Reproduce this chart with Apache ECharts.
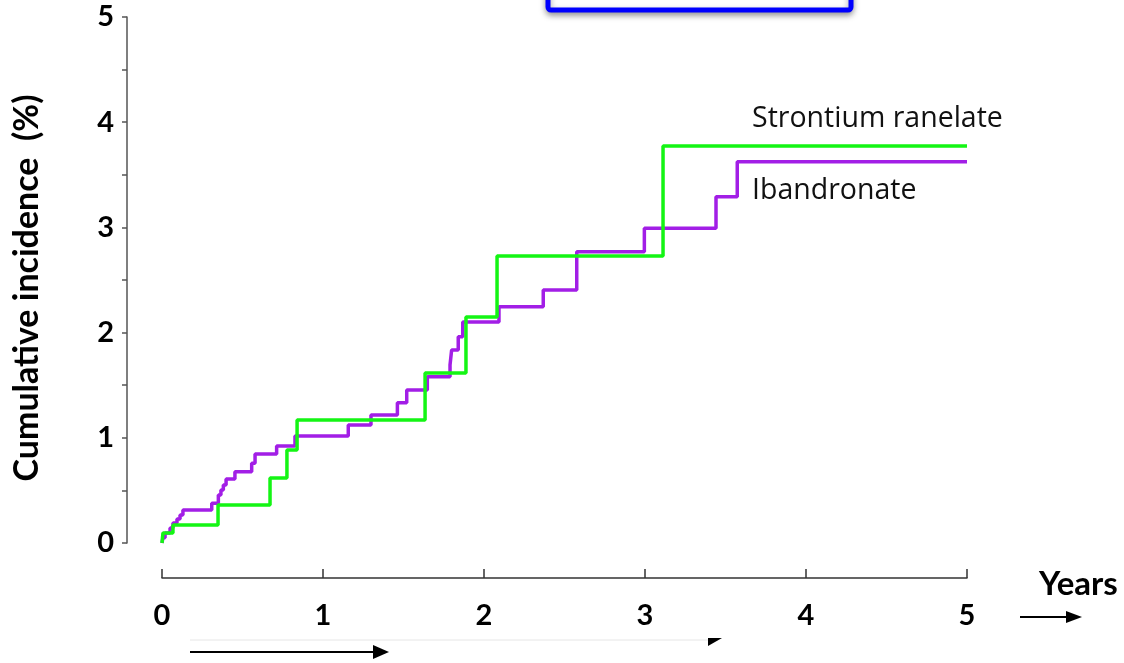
<!DOCTYPE html>
<html>
<head>
<meta charset="utf-8">
<script src="https://cdn.jsdelivr.net/npm/echarts@6/dist/echarts.min.js"></script>
<style>html,body{margin:0;padding:0;background:#fff}#c{width:1124px;height:663px}</style>
</head>
<body>
<div id="c"></div>
<script>
// Step times (years) and cumulative incidence (%) after each step
const strontiumTimes  = [0, 0.006, 0.068, 0.348, 0.671, 0.776, 0.839, 1.634, 1.888, 2.081, 3.112, 5];
const strontiumValues = [0, 0.095, 0.171, 0.361, 0.618, 0.884, 1.169, 1.616, 2.148, 2.728, 3.774, 3.774];

const ibandronateTimes  = [0, 0.006, 0.019, 0.050, 0.068, 0.093, 0.112, 0.130, 0.309, 0.350, 0.366, 0.381, 0.398, 0.453, 0.557, 0.578, 0.712, 0.826, 1.157, 1.298, 1.462, 1.520, 1.648, 1.789, 1.799, 1.840, 1.868, 2.093, 2.368, 2.576, 2.996, 3.441, 3.573, 5];
const ibandronateValues = [0, 0.050, 0.095, 0.143, 0.190, 0.228, 0.266, 0.314, 0.377, 0.456, 0.504, 0.551, 0.608, 0.678, 0.758, 0.846, 0.922, 1.017, 1.122, 1.217, 1.334, 1.454, 1.581, 1.692, 1.835, 1.961, 2.101, 2.246, 2.405, 2.769, 2.991, 3.292, 3.625, 3.625];

const xTicks = [0, 1, 2, 3, 4, 5];
const seriesNames = ['Strontium ranelate', 'Ibandronate'];
const yTitle = 'Cumulative incidence  (%)';

const pairs = (t, v) => t.map((x, i) => [x, v[i]]);
const FONT = 'Lato, "Open Sans", sans-serif';
const FONT2 = '"Open Sans", Lato, sans-serif';

const chart = echarts.init(document.getElementById('c'), null, {renderer: 'canvas'});
chart.setOption({
  animation: false,
  backgroundColor: '#fff',
  grid: {left: 162, right: 157, top: 17, bottom: 120, containLabel: false},
  xAxis: {
    type: 'value', min: 0, max: 5, interval: 1, offset: 35,
    axisLine: {show: true, onZero: false, lineStyle: {color: '#333', width: 1.5}},
    axisTick: {show: true, inside: true, length: 9, lineStyle: {color: '#333', width: 1.5}},
    axisLabel: {margin: 23, color: '#000', fontSize: 29, fontWeight: 'bold', fontFamily: FONT,
      formatter: v => xTicks.includes(v) ? String(v) : ''},
    splitLine: {show: false}
  },
  yAxis: {
    type: 'value', min: 0, max: 5, interval: 0.5, offset: 35,
    axisLine: {show: true, onZero: false, lineStyle: {color: '#555', width: 1.5}},
    axisTick: {show: true, length: 5, lineStyle: {color: '#555', width: 1.5}},
    axisLabel: {margin: 13, color: '#000', fontSize: 29, fontWeight: 'bold', fontFamily: FONT,
      formatter: v => Number.isInteger(v) ? String(v) : ''},
    splitLine: {show: false}
  },
  series: [
    {name: seriesNames[0], type: 'line', step: 'end', symbol: 'none',
     lineStyle: {color: '#14f514', width: 3.5}, data: pairs(strontiumTimes, strontiumValues), z: 3},
    {name: seriesNames[1], type: 'line', step: 'end', symbol: 'none',
     lineStyle: {color: '#a21ee6', width: 3.5}, data: pairs(ibandronateTimes, ibandronateValues), z: 2}
  ],
  graphic: [
    {type: 'text', x: 27, y: 288, rotation: Math.PI / 2,
     style: {text: yTitle, fill: '#000', font: 'bold 34px ' + FONT, align: 'center', verticalAlign: 'middle'}},
    {type: 'text', left: 752, top: 104, style: {text: seriesNames[0], fill: '#111', font: '28.5px ' + FONT2}},
    {type: 'text', left: 752, top: 176, style: {text: seriesNames[1], fill: '#111', font: '28.5px ' + FONT2}},
    {type: 'text', left: 1039, top: 568, style: {text: 'Years', fill: '#000', font: 'bold 33px ' + FONT}},
    // arrow right of axis
    {type: 'line', shape: {x1: 1020, y1: 617, x2: 1068, y2: 617}, style: {stroke: '#000', lineWidth: 2}},
    {type: 'polygon', shape: {points: [[1066, 611], [1082, 617], [1066, 623]]}, style: {fill: '#000'}},
    // bottom arrow
    {type: 'line', shape: {x1: 190, y1: 652, x2: 376, y2: 652}, style: {stroke: '#000', lineWidth: 2}},
    {type: 'polygon', shape: {points: [[373, 645], [389, 652], [373, 659]]}, style: {fill: '#000'}},
    // faint line with tip
    {type: 'line', shape: {x1: 190, y1: 640, x2: 718, y2: 640}, style: {stroke: '#e6e6e6', lineWidth: 1}},
    {type: 'polygon', shape: {points: [[708, 638], [722, 638], [708, 646]]}, style: {fill: '#000'}},
    // blue box at top
    {type: 'rect', shape: {x: 548, y: -20, width: 303, height: 30, r: 3},
     style: {fill: '#fff', stroke: '#0000ff', lineWidth: 5, shadowBlur: 6, shadowColor: 'rgba(0,0,0,0.35)', shadowOffsetY: 3}}
  ]
});
</script>
</body>
</html>
